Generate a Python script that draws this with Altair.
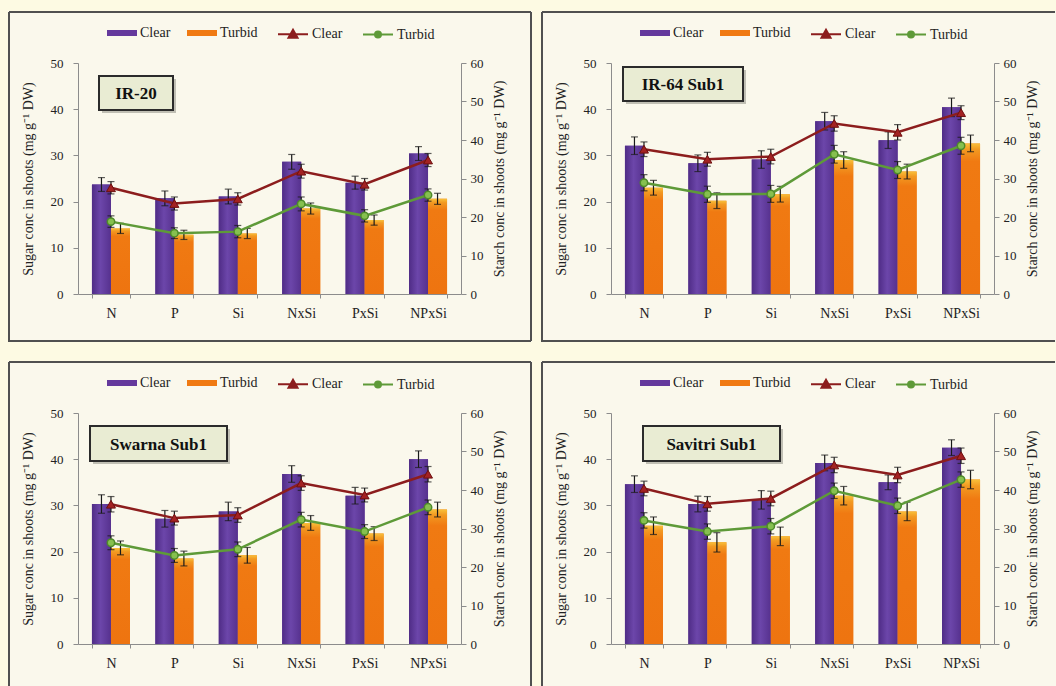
import altair as alt
import pandas as pd

CATEGORIES = ["N", "P", "Si", "NxSi", "PxSi", "NPxSi"]
CONDITIONS = ["Clear", "Turbid"]
STARCH_SERIES = ["Clear starch", "Turbid starch"]

# IR-20
IR20_SUGAR_CLEAR = [23.7, 20.7, 21.1, 28.6, 24.1, 30.4]
IR20_SUGAR_TURBID = [14.2, 12.8, 13.1, 18.5, 16.0, 20.6]
IR20_SUGAR_CLEAR_ERR = [1.5, 1.6, 1.6, 1.6, 1.4, 1.5]
IR20_SUGAR_TURBID_ERR = [1.1, 1.0, 1.1, 1.2, 1.1, 1.2]
IR20_STARCH_CLEAR = [27.6, 23.5, 24.7, 31.9, 28.5, 34.8]
IR20_STARCH_TURBID = [18.8, 15.8, 16.2, 23.4, 20.3, 25.7]
IR20_STARCH_CLEAR_ERR = [1.6, 1.7, 1.6, 1.8, 1.5, 1.7]
IR20_STARCH_TURBID_ERR = [1.5, 1.4, 1.6, 1.8, 1.6, 1.6]

# IR-64 Sub1
IR64_SUGAR_CLEAR = [32.1, 28.3, 29.1, 37.4, 33.3, 40.4]
IR64_SUGAR_TURBID = [23.0, 20.2, 21.6, 29.0, 26.5, 32.6]
IR64_SUGAR_CLEAR_ERR = [1.9, 1.8, 1.9, 1.9, 1.8, 2.0]
IR64_SUGAR_TURBID_ERR = [1.6, 1.7, 1.7, 1.8, 1.6, 1.8]
IR64_STARCH_CLEAR = [37.6, 35.0, 35.7, 44.3, 42.0, 47.1]
IR64_STARCH_TURBID = [28.9, 25.9, 26.0, 36.3, 32.2, 38.5]
IR64_STARCH_CLEAR_ERR = [1.9, 1.8, 1.9, 2.0, 2.0, 1.8]
IR64_STARCH_TURBID_ERR = [2.1, 2.1, 2.2, 2.3, 2.2, 2.2]

# Swarna Sub1
SWARNA_SUGAR_CLEAR = [30.3, 27.1, 28.7, 36.8, 32.1, 40.0]
SWARNA_SUGAR_TURBID = [20.8, 18.5, 19.2, 26.2, 23.9, 29.1]
SWARNA_SUGAR_CLEAR_ERR = [2.0, 1.8, 2.0, 1.8, 1.8, 1.8]
SWARNA_SUGAR_TURBID_ERR = [1.5, 1.6, 1.7, 1.6, 1.5, 1.6]
SWARNA_STARCH_CLEAR = [36.3, 32.7, 33.5, 41.8, 38.7, 44.1]
SWARNA_STARCH_TURBID = [26.3, 23.0, 24.6, 32.3, 29.2, 35.5]
SWARNA_STARCH_CLEAR_ERR = [2.0, 1.8, 1.9, 1.9, 1.8, 2.0]
SWARNA_STARCH_TURBID_ERR = [1.8, 1.8, 1.9, 1.9, 1.8, 1.9]

# Savitri Sub1
SAVITRI_SUGAR_CLEAR = [34.6, 30.3, 31.2, 39.2, 35.0, 42.5]
SAVITRI_SUGAR_TURBID = [25.6, 22.0, 23.3, 32.1, 28.7, 35.6]
SAVITRI_SUGAR_CLEAR_ERR = [1.8, 1.7, 2.0, 1.7, 1.6, 1.7]
SAVITRI_SUGAR_TURBID_ERR = [1.9, 2.1, 2.0, 2.0, 2.0, 2.0]
SAVITRI_STARCH_CLEAR = [40.4, 36.4, 37.8, 46.5, 43.9, 48.9]
SAVITRI_STARCH_TURBID = [32.1, 29.2, 30.6, 39.8, 35.9, 42.7]
SAVITRI_STARCH_CLEAR_ERR = [1.9, 1.9, 1.9, 2.0, 2.0, 2.0]
SAVITRI_STARCH_TURBID_ERR = [2.0, 2.0, 2.0, 2.0, 2.0, 2.0]

SUGAR_TITLE = "Sugar conc in shoots (mg g\u207b\u00b9 DW)"
STARCH_TITLE = "Starch conc in shoots (mg g\u207b\u00b9 DW)"

W, H = 383, 231
FONT = "Liberation Serif"
OUTER = "#FDFAE3"
PANEL_FILL = "#FAF8EC"
FRAME = "#505050"
PURPLE = "#64399C"
ORANGE = "#F07A12"
RED = "#8C1D1D"
GREEN = "#5E9A38"
ERR = "#1a1a1a"
AXIS_GRAY = "#8c8c8c"
TEXT = "#222222"
BOX_FILL = "#E9ECD3"

# shaded fills for the bars (darker edges on the purple, warm top on the orange)
PURPLE_SHADE = alt.LinearGradient(
    gradient="linear", x1=0, x2=1, y1=0, y2=0,
    stops=[alt.GradientStop(offset=0, color="#4F2C86"),
           alt.GradientStop(offset=0.45, color="#6C46AA"),
           alt.GradientStop(offset=1, color="#56318E")])
ORANGE_SHADE = alt.LinearGradient(
    gradient="linear", x1=0, x2=0, y1=0, y2=1,
    stops=[alt.GradientStop(offset=0, color="#F8C03A"),
           alt.GradientStop(offset=0.04, color="#F29A22"),
           alt.GradientStop(offset=0.12, color="#F07A12"),
           alt.GradientStop(offset=1, color="#EE7410")])

BAR_PATH = "M-1,-0.2H1V0.2H-1Z"
TRI_PATH = "M-1,0H1M-0.3,0.22L0,-0.3L0.3,0.22Z"
CIRC_PATH = "M-1,0H1M0.2,0A0.2,0.2,0,1,1,-0.2,0A0.2,0.2,0,1,1,0.2,0Z"

X_AXIS = alt.Axis(
    title=None, labelAngle=0, tickBand="extent", tickSize=4, labelPadding=8,
    labelFontSize=14, labelColor=TEXT, domainColor=AXIS_GRAY, tickColor=AXIS_GRAY,
    zindex=1,
)
Y_LEFT = alt.Axis(
    orient="left", values=[0, 10, 20, 30, 40, 50], title=SUGAR_TITLE,
    tickSize=5, labelPadding=10, titlePadding=15, labelFontSize=13,
    titleFontSize=14, titleFontWeight="normal", labelColor=TEXT, titleColor=TEXT,
    domainColor=AXIS_GRAY, tickColor=AXIS_GRAY, zindex=1,
)
Y_RIGHT = alt.Axis(
    orient="right", values=[0, 10, 20, 30, 40, 50, 60], title=STARCH_TITLE,
    titleAngle=270, titleBaseline="top",
    tickSize=5, labelPadding=4, titlePadding=9, labelFontSize=13,
    titleFontSize=14, titleFontWeight="normal", labelColor=TEXT, titleColor=TEXT,
    domainColor=AXIS_GRAY, tickColor=AXIS_GRAY, zindex=1,
)

BAR_LEGEND = alt.Legend(
    orient="none", legendX=29, legendY=-45, direction="horizontal", title=None,
    symbolType=BAR_PATH, symbolSize=900, symbolStrokeWidth=0, symbolOpacity=1,
    labelFont=FONT, labelFontSize=14, labelColor=TEXT, labelOffset=3,
    columnPadding=16, padding=0,
)
LINE_LEGEND = alt.Legend(
    orient="none", legendX=199, legendY=-45, direction="horizontal", title=None,
    symbolSize=900, symbolStrokeWidth=2, symbolOpacity=1,
    labelExpr="split(datum.label, ' ')[0]",
    labelFont=FONT, labelFontSize=14, labelColor=TEXT, labelOffset=3,
    columnPadding=16, padding=0,
)


def x_enc():
    return alt.X("cat:N", sort=CATEGORIES,
                 scale=alt.Scale(paddingInner=0.4, paddingOuter=0.22), axis=X_AXIS)


def y_left(field):
    return alt.Y(f"{field}:Q", scale=alt.Scale(domain=[0, 50], nice=False), axis=Y_LEFT)


def y_right(field):
    return alt.Y(f"{field}:Q", scale=alt.Scale(domain=[0, 60], nice=False), axis=Y_RIGHT)


def table(labels, pairs):
    rows = []
    for label, (vals, errs) in zip(labels, pairs):
        for cat, v, e in zip(CATEGORIES, vals, errs):
            rows.append({"cat": cat, "series": label, "value": v,
                         "lo": round(v - e, 2), "hi": round(v + e, 2)})
    return pd.DataFrame(rows)


def decorations(name, box, right_edge, bottom_edge, draw_right, draw_bottom):
    base = alt.Chart(pd.DataFrame({"k": [0]}))
    left, top = -70, -52
    layers = [
        base.mark_rect(fill=PANEL_FILL, strokeWidth=0).encode(
            x=alt.value(left), x2=alt.value(right_edge),
            y=alt.value(top), y2=alt.value(bottom_edge)),
        base.mark_rule(color=FRAME, strokeWidth=2).encode(
            x=alt.value(left + 1), x2=alt.value(right_edge - 1), y=alt.value(top + 1)),
        base.mark_rule(color=FRAME, strokeWidth=2).encode(
            x=alt.value(left + 1), y=alt.value(top + 1), y2=alt.value(bottom_edge)),
    ]
    if draw_right:
        layers.append(base.mark_rule(color=FRAME, strokeWidth=2).encode(
            x=alt.value(right_edge - 1), y=alt.value(top + 1), y2=alt.value(bottom_edge - 1)))
    if draw_bottom:
        layers.append(base.mark_rule(color=FRAME, strokeWidth=2).encode(
            x=alt.value(left + 1), x2=alt.value(right_edge - 1), y=alt.value(bottom_edge - 1)))
    bx0, by0, bx1, by1 = box
    layers += [
        base.mark_rect(fill="#8f8f86", opacity=0.55).encode(
            x=alt.value(bx0 + 3), x2=alt.value(bx1 + 3),
            y=alt.value(by0 + 3), y2=alt.value(by1 + 3)),
        base.mark_rect(fill=BOX_FILL, stroke="#2b2b2b", strokeWidth=2).encode(
            x=alt.value(bx0), x2=alt.value(bx1), y=alt.value(by0), y2=alt.value(by1)),
        base.mark_text(text=name, font=FONT, fontSize=17, fontWeight="bold",
                       color="#111111", align="center", baseline="middle").encode(
            x=alt.value((bx0 + bx1) / 2), y=alt.value((by0 + by1) / 2 + 1)),
    ]
    return layers


def panel(name, box, sugar, starch, right_col, bottom_row):
    bars_df = table(CONDITIONS, sugar)
    lines_df = table(STARCH_SERIES, starch)

    bars_base = alt.Chart(bars_df)
    x_off = alt.XOffset("series:N", sort=CONDITIONS,
                        scale=alt.Scale(paddingInner=0, paddingOuter=0))
    bars = bars_base.mark_bar().encode(
        x=x_enc(), xOffset=x_off, y=y_left("value"),
        color=alt.Color("series:N", scale=alt.Scale(domain=CONDITIONS, range=[PURPLE, ORANGE]),
                        legend=BAR_LEGEND),
    )
    shade_clear = bars_base.transform_filter(alt.datum.series == CONDITIONS[0]).mark_bar(
        fill=PURPLE_SHADE).encode(x=x_enc(), xOffset=x_off, y=y_left("value"))
    shade_turbid = bars_base.transform_filter(alt.datum.series == CONDITIONS[1]).mark_bar(
        fill=ORANGE_SHADE).encode(x=x_enc(), xOffset=x_off, y=y_left("value"))
    bar_err = bars_base.mark_rule(color=ERR, strokeWidth=1.2).encode(
        x=x_enc(), xOffset=x_off, y=y_left("lo"), y2="hi:Q")
    bar_cap_hi = bars_base.mark_tick(color=ERR, thickness=1.2, size=7).encode(
        x=x_enc(), xOffset=x_off, y=y_left("hi"))
    bar_cap_lo = bars_base.mark_tick(color=ERR, thickness=1.2, size=7).encode(
        x=x_enc(), xOffset=x_off, y=y_left("lo"))
    left_group = alt.layer(bars, shade_clear, shade_turbid, bar_err, bar_cap_hi, bar_cap_lo)

    line_base = alt.Chart(lines_df)
    stroke = alt.Stroke("series:N", scale=alt.Scale(domain=STARCH_SERIES, range=[RED, GREEN]),
                        legend=LINE_LEGEND)
    line = line_base.mark_line(strokeWidth=2.5).encode(
        x=x_enc(), y=y_right("value"), stroke=stroke)
    line_err = line_base.mark_rule(color=ERR, strokeWidth=1.2).encode(
        x=x_enc(), y=y_right("lo"), y2="hi:Q")
    line_cap_hi = line_base.mark_tick(color=ERR, thickness=1.2, size=7).encode(
        x=x_enc(), y=y_right("hi"))
    line_cap_lo = line_base.mark_tick(color=ERR, thickness=1.2, size=7).encode(
        x=x_enc(), y=y_right("lo"))
    tri = line_base.transform_filter(alt.datum.series == STARCH_SERIES[0]).mark_point(
        shape="triangle-up", filled=True, size=80, fill="#A32222", stroke="#6e1010",
        strokeWidth=1, opacity=1).encode(x=x_enc(), y=y_right("value"))
    circ = line_base.transform_filter(alt.datum.series == STARCH_SERIES[1]).mark_point(
        shape="circle", filled=True, size=55, fill="#86C04F", stroke="#4E8A2A",
        strokeWidth=1.5, opacity=1).encode(x=x_enc(), y=y_right("value"))
    key = line_base.transform_filter("false").mark_point(
        filled=True, strokeWidth=2, opacity=1).encode(
        x=x_enc(), y=y_right("value"), stroke=stroke,
        fill=alt.Fill("series:N", scale=alt.Scale(domain=STARCH_SERIES, range=[RED, GREEN]),
                      legend=LINE_LEGEND),
        shape=alt.Shape("series:N", scale=alt.Scale(domain=STARCH_SERIES,
                                                     range=[TRI_PATH, CIRC_PATH]),
                        legend=LINE_LEGEND),
    )
    right_group = alt.layer(line, line_err, line_cap_hi, line_cap_lo, tri, circ, key)

    right_edge = 445 if right_col else 454
    bottom_edge = 274 if bottom_row else 279
    deco = decorations(name, box, right_edge, bottom_edge,
                       draw_right=not right_col, draw_bottom=not bottom_row)
    return alt.layer(*deco, left_group, right_group).resolve_scale(
        y="independent").properties(width=W, height=H)


p1 = panel("IR-20", (21, 13, 95, 47),
           [(IR20_SUGAR_CLEAR, IR20_SUGAR_CLEAR_ERR), (IR20_SUGAR_TURBID, IR20_SUGAR_TURBID_ERR)],
           [(IR20_STARCH_CLEAR, IR20_STARCH_CLEAR_ERR), (IR20_STARCH_TURBID, IR20_STARCH_TURBID_ERR)],
           right_col=False, bottom_row=False)
p2 = panel("IR-64 Sub1", (12, 4, 132, 38),
           [(IR64_SUGAR_CLEAR, IR64_SUGAR_CLEAR_ERR), (IR64_SUGAR_TURBID, IR64_SUGAR_TURBID_ERR)],
           [(IR64_STARCH_CLEAR, IR64_STARCH_CLEAR_ERR), (IR64_STARCH_TURBID, IR64_STARCH_TURBID_ERR)],
           right_col=True, bottom_row=False)
p3 = panel("Swarna Sub1", (12, 13, 149, 48),
           [(SWARNA_SUGAR_CLEAR, SWARNA_SUGAR_CLEAR_ERR), (SWARNA_SUGAR_TURBID, SWARNA_SUGAR_TURBID_ERR)],
           [(SWARNA_STARCH_CLEAR, SWARNA_STARCH_CLEAR_ERR), (SWARNA_STARCH_TURBID, SWARNA_STARCH_TURBID_ERR)],
           right_col=False, bottom_row=True)
p4 = panel("Savitri Sub1", (32, 13, 169, 48),
           [(SAVITRI_SUGAR_CLEAR, SAVITRI_SUGAR_CLEAR_ERR), (SAVITRI_SUGAR_TURBID, SAVITRI_SUGAR_TURBID_ERR)],
           [(SAVITRI_STARCH_CLEAR, SAVITRI_STARCH_CLEAR_ERR), (SAVITRI_STARCH_TURBID, SAVITRI_STARCH_TURBID_ERR)],
           right_col=True, bottom_row=True)

INDEP = dict(color="independent", stroke="independent", fill="independent",
             shape="independent")
top = alt.hconcat(p1, p2, spacing=9).resolve_scale(**INDEP)
bottom = alt.hconcat(p3, p4, spacing=9).resolve_scale(**INDEP)

chart = (
    alt.vconcat(top, bottom, spacing=18)
    .resolve_scale(**INDEP)
    .properties(padding={"left": 8, "top": 11, "right": 0, "bottom": 0})
    .configure(background=OUTER, font=FONT)
    .configure_view(stroke=None, fill=None)
    .configure_axis(grid=False, labelFont=FONT, titleFont=FONT)
)

chart.save("out.html", embed_options={"renderer": "svg", "actions": False})
